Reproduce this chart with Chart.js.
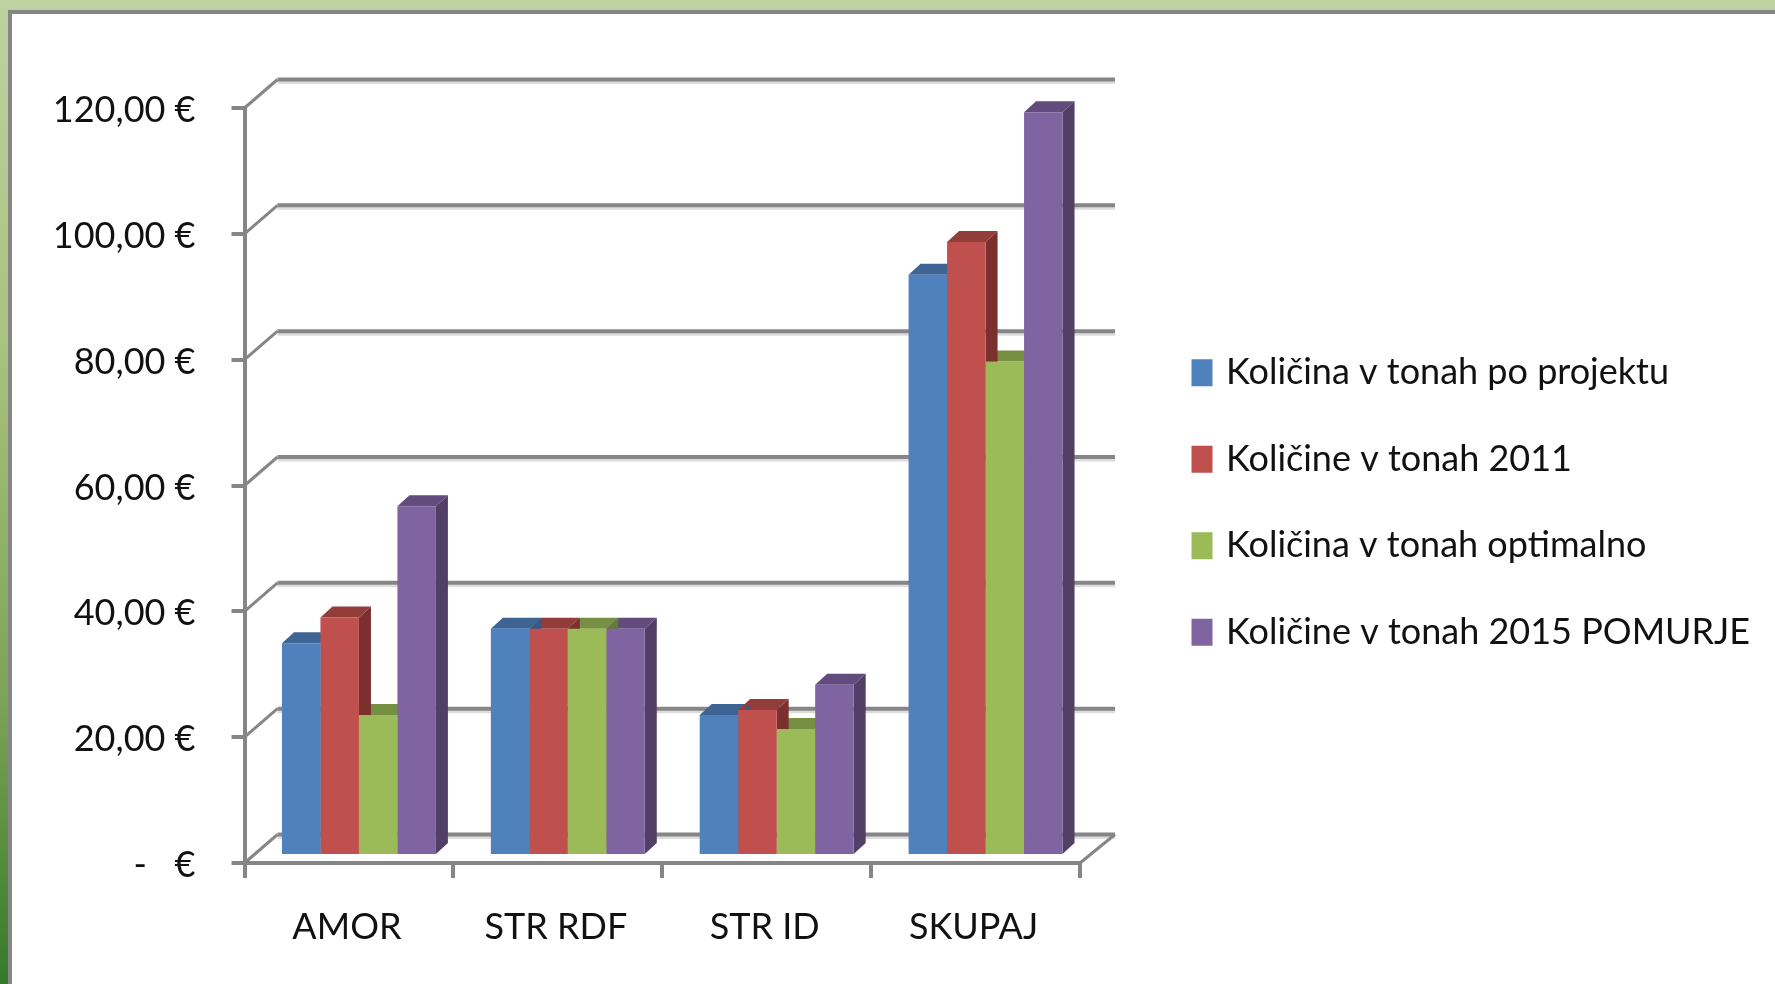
<!DOCTYPE html>
<html>
<head>
<meta charset="utf-8">
<title>Količine</title>
<script src="https://cdn.jsdelivr.net/npm/chart.js@4/dist/chart.umd.min.js"></script>
<style>
    html, body { margin: 0; padding: 0; overflow: hidden; }
    body { width: 1775px; height: 984px; background: linear-gradient(#bed1a1 0%, #a8c27f 35%, #7ba255 72%, #347a2a 100%); position: relative; }
    #frame { position: absolute; left: 8px; top: 10px; right: 0; bottom: 0; border-left: 4px solid #868686; border-top: 4px solid #848484; background: #fff; }
    #myChart { position: absolute; left: 0; top: 0; filter: blur(0.4px); }
</style>
</head>
<body>
<div id="frame"></div>
<canvas id="myChart" width="1775" height="984"></canvas>
<script>
var categories = ["AMOR", "STR RDF", "STR ID", "SKUPAJ"];
var projekt = [33.8, 36.1, 22.4, 92.4];
var tone2011 = [37.9, 36.1, 23.2, 97.6];
var optimalno = [22.4, 36.1, 20.2, 78.6];
var pomurje2015 = [55.6, 36.1, 27.2, 118.2];
var seriesNames = ["Količina v tonah po projektu", "Količine v tonah 2011", "Količina v tonah optimalno", "Količine v tonah 2015 POMURJE"];
var yTickLabels = ["-   €", "20,00 €", "40,00 €", "60,00 €", "80,00 €", "100,00 €", "120,00 €"];

var faceColors = ["#4f81bd", "#c0504d", "#9bbb59", "#8064a2"];
var topColors = ["#3d6493", "#933d3b", "#768f42", "#624c7e"];
var sideColors = ["#37597f", "#7b302e", "#64793a", "#523f66"];

var gridColor = "#868686";
var fontName = "Lato, 'Open Sans', sans-serif";
var fontSize = 36;

// how far the back wall and the bars sit from the front axes
var wallDx = 33, wallDxRight = 35, wallDy = -28.5;
var barDx = 10, barDy = -7, barDepth = 12, barRise = 11;

function line(ctx, x1, y1, x2, y2, color, width) {
    ctx.strokeStyle = color;
    ctx.lineWidth = width;
    ctx.beginPath();
    ctx.moveTo(x1, y1);
    ctx.lineTo(x2, y2);
    ctx.stroke();
}

function poly(ctx, pts, color) {
    ctx.fillStyle = color;
    ctx.beginPath();
    ctx.moveTo(pts[0], pts[1]);
    for (var i = 2; i < pts.length; i += 2) ctx.lineTo(pts[i], pts[i + 1]);
    ctx.closePath();
    ctx.fill();
}

var fake3d = {
    id: "fake3d",
    afterLayout: function(chart) {
        // legend sits in its own spot, not where the layout puts it
        var l = chart.legend;
        l.left = 1145.5;
        l.right = 1775;
        l.top -= 38.5;
        l.bottom -= 38.5;
    },
    beforeDatasetsDraw: function(chart) {
        var ctx = chart.ctx, y = chart.scales.y, x = chart.scales.x;
        var left = x.left, right = x.right;
        ctx.save();
        y.ticks.forEach(function(t) {
            var py = y.getPixelForValue(t.value);
            line(ctx, left + wallDx, py + wallDy + 3, right + wallDxRight, py + wallDy + 3, "#dddddd", 3);
            line(ctx, left + wallDx, py + wallDy, right + wallDxRight, py + wallDy, gridColor, 4);
            line(ctx, left, py, left + wallDx, py + wallDy, gridColor, 3);
        });
        var y0 = y.getPixelForValue(0);
        line(ctx, right, y0, right + wallDxRight, y0 + wallDy, gridColor, 3);

        // tops first, then sides, the fronts come after from the library
        var metas = chart.getSortedVisibleDatasetMetas();
        metas.forEach(function(meta, d) {
            meta.data.forEach(function(bar) {
                var p = bar.getProps(["x", "y", "width"], true);
                var l = p.x - p.width / 2 + barDx, r = p.x + p.width / 2 + barDx, t = p.y + barDy;
                poly(ctx, [l, t, r, t, r + barDepth, t - barRise, l + barDepth, t - barRise], topColors[d]);
            });
        });
        metas.forEach(function(meta, d) {
            meta.data.forEach(function(bar) {
                var p = bar.getProps(["x", "y", "width", "base"], true);
                var r = p.x + p.width / 2 + barDx, t = p.y + barDy, b = p.base + barDy;
                poly(ctx, [r, t, r + barDepth, t - barRise, r + barDepth, b - barRise, r, b], sideColors[d]);
            });
        });
        ctx.restore();
    },
    beforeDatasetDraw: function(chart) {
        chart.ctx.save();
        chart.ctx.translate(barDx, barDy);
    },
    afterDatasetDraw: function(chart) {
        chart.ctx.restore();
    }
};

var seriesValues = [projekt, tone2011, optimalno, pomurje2015];

new Chart(document.getElementById("myChart"), {
    type: "bar",
    plugins: [fake3d],
    data: {
        labels: categories,
        datasets: seriesValues.map(function(vals, i) {
            return {
                label: seriesNames[i],
                data: vals,
                backgroundColor: faceColors[i],
                borderWidth: 0,
                clip: false,
                barPercentage: 1,
                categoryPercentage: 0.737
            };
        })
    },
    options: {
        responsive: false,
        animation: false,
        layout: { padding: { left: 0, top: 108, right: 395, bottom: 10 } },
        scales: {
            x: {
                afterFit: function(scale) { scale.height = 111; },
                border: { color: gridColor, width: 4 },
                grid: { offset: true, drawOnChartArea: false, color: gridColor, lineWidth: 4, tickLength: 15 },
                ticks: { color: "#111", padding: 28, labelOffset: -2, font: { family: fontName, size: fontSize }, maxRotation: 0 }
            },
            y: {
                min: 0,
                max: 120,
                afterFit: function(scale) { scale.width = 244.5; },
                border: { color: gridColor, width: 4 },
                grid: { drawOnChartArea: false, color: gridColor, lineWidth: 4, tickLength: 13 },
                ticks: {
                    stepSize: 20,
                    color: "#111",
                    padding: 36,
                    labelOffset: 2.5,
                    font: { family: fontName, size: fontSize },
                    callback: function(value) { return yTickLabels[value / 20]; }
                }
            }
        },
        plugins: {
            tooltip: { enabled: false },
            legend: {
                position: "right",
                align: "center",
                maxWidth: 300,
                labels: {
                    // wide stroke of the same colour makes the box bigger without moving the text
                    boxWidth: 12,
                    boxHeight: 18,
                    padding: 50.5,
                    color: "#111",
                    font: { family: fontName, size: fontSize },
                    generateLabels: function(chart) {
                        return Chart.defaults.plugins.legend.labels.generateLabels(chart).map(function(item) {
                            item.lineWidth = 9;
                            item.strokeStyle = item.fillStyle;
                            return item;
                        });
                    }
                }
            }
        }
    }
});
</script>
</body>
</html>
